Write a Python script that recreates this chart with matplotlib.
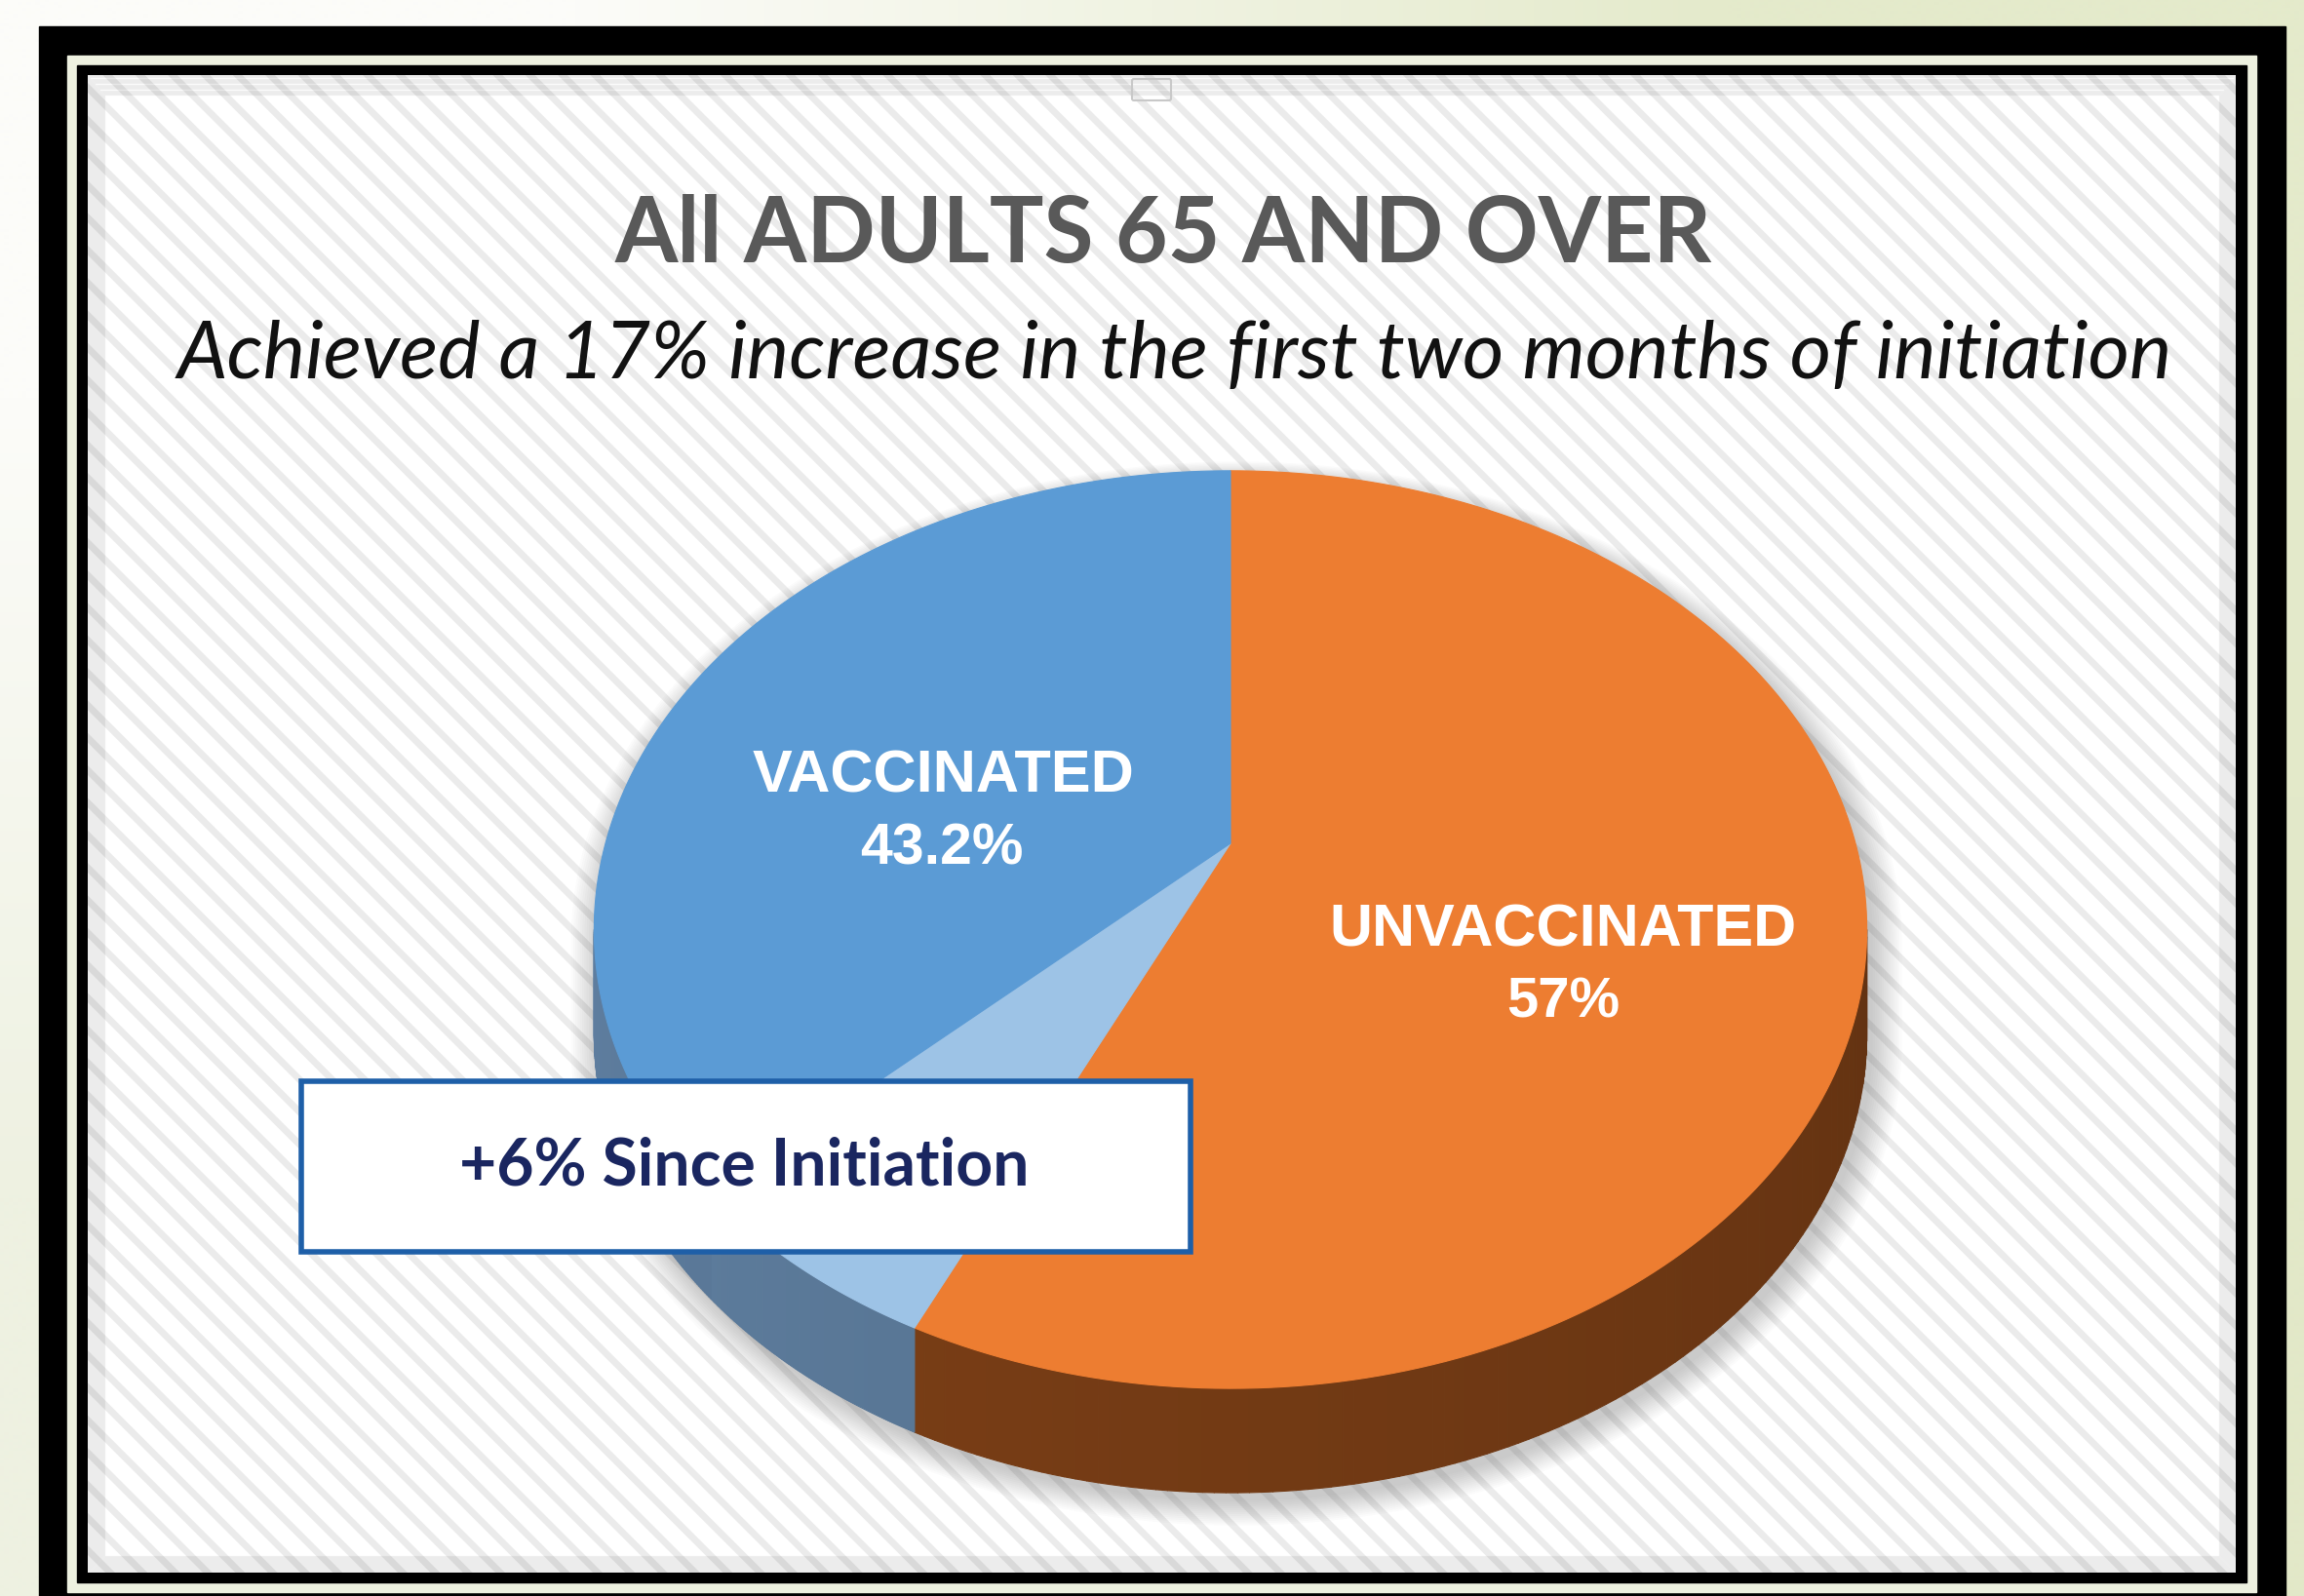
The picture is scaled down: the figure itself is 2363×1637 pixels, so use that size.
import numpy as np
import matplotlib
matplotlib.use("Agg")
import matplotlib.pyplot as plt
from matplotlib.patches import Rectangle, Polygon, FancyBboxPatch
from matplotlib.collections import PolyCollection
from matplotlib.colors import to_rgb

W, H = 2363, 1637

# slices, clockwise from 12 o'clock (vaccinated total = 37.2 + 6 = 43.2)
categories = ["UNVACCINATED", "INCREASE", "VACCINATED"]
shares = [57.0, 6.0, 37.2]
top_colors = ["#ed7d31", "#9dc3e6", "#5b9bd5"]
side_colors = ["#7c3f16", "#5c7b9b", "#5a7898"]

unvacc_pct = 57
vacc_pct = 43.2
increase_pct = 6

title = "All ADULTS 65 AND OVER"
subtitle = "Achieved a 17% increase in the first two months of initiation"
box_text = f"+{increase_pct}% Since Initiation"

# pie geometry (pixels), perspective tilt k
cx, cy = 1262, 865
A, B, k = 641, 454, 0.188
depth = 107


def project(theta, r=1.0, s=1.0):
    u = r * np.cos(theta)
    v = r * np.sin(theta)
    w = 1 + k * v
    return cx + s * A * u / w, cy - s * B * v / w


def fit(txt, target):
    r = fig.canvas.get_renderer()
    w = txt.get_window_extent(r).width
    txt.set_fontsize(txt.get_fontsize() * target / w)


fig = plt.figure(figsize=(W / 100, H / 100), dpi=100)
ax = fig.add_axes([0, 0, 1, 1])
ax.set_xlim(0, W)
ax.set_ylim(H, 0)
ax.axis("off")

# slide background gradient
grad = np.array([[to_rgb("#fcfcf9"), to_rgb("#e4eacb")],
                 [to_rgb("#eef1e1"), to_rgb("#e2e8c8")]])
ax.imshow(grad, extent=(0, W, H, 0), interpolation="bilinear", aspect="auto", zorder=0)

# frame
ax.add_patch(Rectangle((40, 27), 2304, 1700, color="black", zorder=1))
ax.add_patch(Rectangle((69, 57), 2245, 1576, color="#eef1e0", zorder=1.1))
ax.add_patch(Rectangle((79, 67), 2225, 1556, color="black", zorder=1.2))
plt.rcParams["hatch.linewidth"] = 5
ax.add_patch(Rectangle((90, 77), 2203, 1536, facecolor="white", edgecolor="#ebebeb",
                       hatch="\\", lw=0, zorder=1.3))
for i in range(18):
    ax.add_patch(Rectangle((90 + i, 77 + i * 1.2), 2203 - 2 * i, 1536 - 2.2 * i,
                           fill=False, edgecolor="black", alpha=0.06, lw=0.9, zorder=1.4))
ax.add_patch(FancyBboxPatch((1163, 83), 36, 18, boxstyle="round,pad=2",
                            facecolor="none", edgecolor="#c8c8c8", lw=1.5, zorder=1.5))

# angles of slice boundaries (degrees), clockwise from top
fr = np.array(shares) / sum(shares) * 360
bounds = 90 - np.concatenate([[0], np.cumsum(fr)])
sil = np.degrees(np.arcsin(k))
front_lo, front_hi = -180 + sil, -sil

# soft shadow
for i in range(14):
    e = 1 + 0.0035 * i
    t1 = np.radians(np.linspace(front_hi, front_lo + 360, 200))
    t2 = np.radians(np.linspace(front_lo, front_hi, 200))
    xs1, ys1 = project(t1, s=e)
    xs2, ys2 = project(t2, s=e)
    xs = np.concatenate([xs1, xs2]) + 6
    ys = np.concatenate([ys1, ys2 + depth]) + 8
    ax.add_patch(Polygon(np.column_stack([xs, ys]), color="#555555", alpha=0.025,
                         lw=0, zorder=2))

# sides of the pie (only the front arc is visible)
for i in range(len(shares)):
    hi, lo = bounds[i], bounds[i + 1]
    a0, a1 = max(lo, front_lo), min(hi, front_hi)
    if a1 <= a0:
        continue
    ts = np.radians(np.linspace(a0, a1, 120))
    base = np.array(to_rgb(side_colors[i]))
    quads, cols = [], []
    for j in range(len(ts) - 1):
        x0, y0 = project(ts[j])
        x1, y1 = project(ts[j + 1])
        quads.append([(x0, y0), (x1, y1), (x1, y1 + depth), (x0, y0 + depth)])
        f = (np.degrees(ts[j]) - front_lo) / (front_hi - front_lo)
        cols.append(np.clip(base * (1.05 - 0.25 * f), 0, 1))
    ax.add_collection(PolyCollection(quads, facecolors=cols, edgecolors=cols,
                                     lw=0.8, zorder=3))

# top faces
for i in range(len(shares)):
    ts = np.radians(np.linspace(bounds[i], bounds[i + 1], 200))
    xs, ys = project(ts)
    pts = np.column_stack([np.r_[cx, xs], np.r_[cy, ys]])
    ax.add_patch(Polygon(pts, facecolor=top_colors[i], edgecolor=top_colors[i],
                         lw=0.8, zorder=4))

# labels
lab_kw = dict(color="white", fontweight="bold", family="Liberation Sans",
              ha="center", va="center", zorder=5, fontsize=40)
t = ax.text(968, 797, "VACCINATED", **lab_kw)
fit(t, 391)
t = ax.text(966, 871, f"{vacc_pct:.1f}%", **lab_kw)
fit(t, 167)
t = ax.text(1603, 955, "UNVACCINATED", **lab_kw)
fit(t, 478)
t = ax.text(1603, 1028, f"{unvacc_pct}%", **lab_kw)
fit(t, 116)

# titles
t = ax.text(1193, 242, title, color="#595959", fontweight="bold", family="Lato",
            ha="center", va="center", fontsize=60, zorder=5)
fit(t, 1126)
t = ax.text(1205, 365, subtitle, color="#111111", style="italic", family="Lato",
            ha="center", va="center", fontsize=50, zorder=5)
fit(t, 2049)

# callout box
ax.add_patch(Rectangle((309, 1109), 912, 175, facecolor="white", edgecolor="#1e5fa8",
                       lw=4, zorder=6))
t = ax.text(763, 1197, box_text, color="#1a2660", fontweight="bold", family="Lato",
            ha="center", va="center", fontsize=40, zorder=7)
fit(t, 584)

fig.savefig("out.png", dpi=100)
